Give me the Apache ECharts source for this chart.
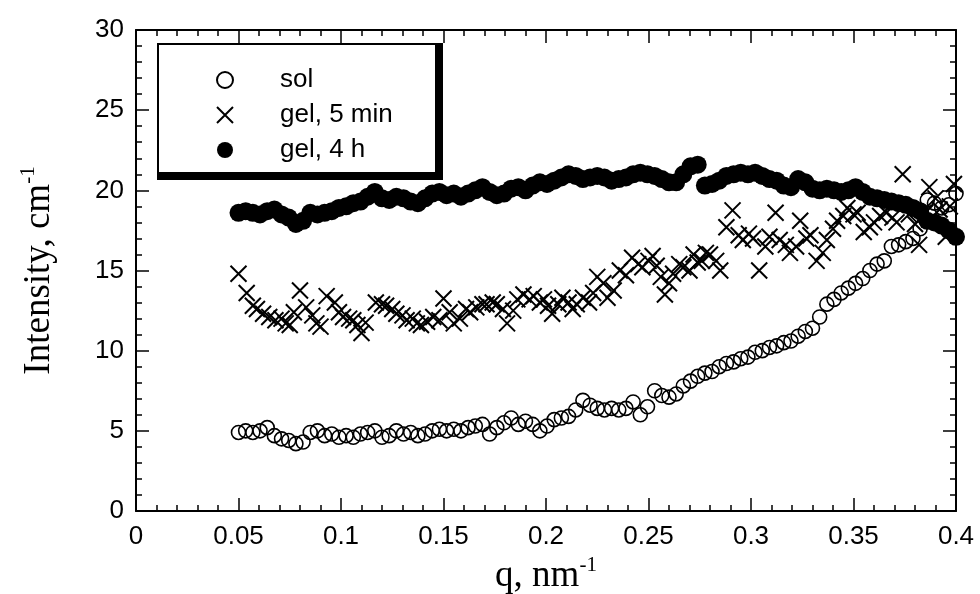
<!DOCTYPE html>
<html>
<head>
<meta charset="utf-8">
<script src="https://cdn.jsdelivr.net/npm/echarts@6/dist/echarts.min.js"></script>
<style>
    html, body { margin: 0; padding: 0; background: #fff; }
    #chart { width: 980px; height: 594px; }
</style>
</head>
<body>
<div id="chart"></div>
<script>
    // q grid shared by "sol" and "gel, 4 h"
    var qGrid = [
        0.0500, 0.0535, 0.0570, 0.0605, 0.0640, 0.0675, 0.0710, 0.0745, 0.0780, 0.0815,
        0.0850, 0.0885, 0.0920, 0.0955, 0.0990, 0.1025, 0.1060, 0.1095, 0.1130, 0.1165,
        0.1200, 0.1235, 0.1270, 0.1305, 0.1340, 0.1375, 0.1410, 0.1445, 0.1480, 0.1515,
        0.1550, 0.1585, 0.1620, 0.1655, 0.1690, 0.1725, 0.1760, 0.1795, 0.1830, 0.1865,
        0.1900, 0.1935, 0.1970, 0.2005, 0.2040, 0.2075, 0.2110, 0.2145, 0.2180, 0.2215,
        0.2250, 0.2285, 0.2320, 0.2355, 0.2390, 0.2425, 0.2460, 0.2495, 0.2530, 0.2565,
        0.2600, 0.2635, 0.2670, 0.2705, 0.2740, 0.2775, 0.2810, 0.2845, 0.2880, 0.2915,
        0.2950, 0.2985, 0.3020, 0.3055, 0.3090, 0.3125, 0.3160, 0.3195, 0.3230, 0.3265,
        0.3300, 0.3335, 0.3370, 0.3405, 0.3440, 0.3475, 0.3510, 0.3545, 0.3580, 0.3615,
        0.3650, 0.3685, 0.3720, 0.3755, 0.3790, 0.3825, 0.3860, 0.3895, 0.3930, 0.3965,
        0.4000
    ];
    var sol = [
        4.9, 5.0, 4.9, 5.0, 5.2, 4.7, 4.5, 4.4, 4.2, 4.3,
        4.9, 5.0, 4.7, 4.8, 4.6, 4.7, 4.6, 4.8, 4.9, 5.0,
        4.6, 4.7, 5.0, 4.8, 4.9, 4.7, 4.8, 5.0, 5.1, 5.0,
        5.1, 5.0, 5.2, 5.3, 5.4, 4.8, 5.2, 5.5, 5.8, 5.4,
        5.6, 5.4, 5.0, 5.3, 5.7, 5.8, 5.9, 6.3, 6.9, 6.6,
        6.4, 6.3, 6.4, 6.3, 6.4, 6.8, 6.0, 6.5, 7.5, 7.2,
        7.1, 7.3, 7.8, 8.1, 8.4, 8.6, 8.7, 9.0, 9.2, 9.3,
        9.5, 9.6, 9.9, 10.0, 10.2, 10.3, 10.5, 10.6, 10.9, 11.2,
        11.4, 12.1, 12.9, 13.2, 13.6, 13.9, 14.2, 14.5, 15.0, 15.4,
        15.6, 16.5, 16.6, 16.8, 17.0, 17.6, 19.4, 19.2, 18.9, 19.1,
        19.8
    ];
    var gel4h = [
        18.6, 18.7, 18.6, 18.5, 18.7, 18.8, 18.5, 18.3, 17.9, 18.1,
        18.6, 18.5, 18.6, 18.7, 18.9, 19.0, 19.2, 19.3, 19.6, 19.9,
        19.5, 19.4, 19.6, 19.5, 19.3, 19.2, 19.5, 19.8, 19.9, 19.7,
        19.8, 19.6, 19.8, 20.0, 20.2, 19.9, 19.7, 19.8, 20.1, 20.2,
        20.0, 20.3, 20.5, 20.4, 20.6, 20.8, 21.0, 20.9, 20.7, 20.8,
        20.9, 20.8, 20.6, 20.7, 20.8, 21.0, 21.1, 21.0, 20.9, 20.7,
        20.5, 20.5, 21.0, 21.5, 21.6, 20.3, 20.4, 20.6, 20.9, 21.0,
        21.1, 21.0, 21.1, 20.9, 20.7, 20.6, 20.3, 20.2, 20.7, 20.5,
        20.1, 20.0, 20.1, 20.0, 19.9, 20.0, 20.2, 19.9, 19.6, 19.5,
        19.4, 19.3, 19.2, 19.1, 18.9, 18.7, 18.1, 18.0, 17.8, 17.5,
        17.1
    ];
    // "gel, 5 min" has its own q values
    var q5min = [
        0.050, 0.054, 0.057, 0.059, 0.062, 0.065, 0.068, 0.071, 0.073, 0.075,
        0.077, 0.080, 0.083, 0.086, 0.088, 0.090, 0.093, 0.097, 0.099, 0.101,
        0.104, 0.106, 0.108, 0.110, 0.112, 0.117, 0.120, 0.122, 0.125, 0.127,
        0.130, 0.132, 0.135, 0.137, 0.139, 0.142, 0.145, 0.148, 0.150, 0.153,
        0.155, 0.158, 0.161, 0.163, 0.166, 0.169, 0.171, 0.174, 0.176, 0.179,
        0.181, 0.184, 0.186, 0.189, 0.192, 0.194, 0.197, 0.199, 0.201, 0.203,
        0.206, 0.208, 0.211, 0.213, 0.215, 0.218, 0.221, 0.223, 0.225, 0.228,
        0.230, 0.233, 0.236, 0.239, 0.242, 0.245, 0.247, 0.250, 0.252, 0.254,
        0.256, 0.258, 0.260, 0.262, 0.265, 0.267, 0.270, 0.272, 0.274, 0.276,
        0.278, 0.280, 0.283, 0.285, 0.288, 0.291, 0.294, 0.296, 0.299, 0.301,
        0.304, 0.307, 0.309, 0.312, 0.314, 0.317, 0.319, 0.322, 0.324, 0.327,
        0.329, 0.332, 0.335, 0.337, 0.340, 0.342, 0.345, 0.347, 0.350, 0.352,
        0.355, 0.358, 0.360, 0.363, 0.366, 0.369, 0.371, 0.374, 0.377, 0.380,
        0.382, 0.385, 0.387, 0.390, 0.392, 0.395, 0.397, 0.399
    ];
    var gel5min = [
        14.8, 13.6, 12.8, 12.6, 12.3, 12.1, 11.9, 12.0, 11.7, 11.6,
        12.4, 13.75, 12.7, 12.2, 11.7, 11.5, 13.4, 13.0, 12.4, 12.1,
        12.0, 11.9, 11.6, 11.1, 11.75, 13.0, 12.9, 12.8, 12.6, 12.3,
        12.2, 11.9, 12.0, 11.7, 11.6, 11.8, 12.1, 11.9, 13.25, 12.4,
        11.7, 12.0, 12.6, 12.4, 12.7, 12.9, 12.9, 13.0, 12.9, 12.6,
        11.7, 12.5, 13.2, 13.5, 13.2, 13.4, 13.0, 13.2, 12.8, 12.3,
        12.9, 13.3, 13.0, 12.6, 12.9, 13.3, 13.0, 13.6, 14.6, 14.2,
        13.3, 13.75, 15.0, 14.7, 15.8, 15.4, 15.2, 15.6, 15.9, 15.3,
        14.6, 13.5, 14.2, 14.8, 15.4, 15.2, 15.0, 16.0, 15.5, 15.6,
        16.1, 16.0, 15.6, 15.0, 17.7, 18.75, 17.2, 16.9, 17.3, 17.0,
        15.0, 16.5, 17.1, 18.6, 16.9, 16.6, 16.1, 16.5, 18.1, 17.0,
        17.2, 15.6, 16.1, 16.9, 17.6, 18.1, 18.4, 18.9, 18.5, 18.6,
        17.4, 17.7, 18.0, 18.4, 18.6, 18.3, 18.0, 21.0, 18.5, 17.9,
        16.6, 18.6, 20.2, 19.5, 18.8, 17.1, 19.0, 20.4
    ];

    function toPairs(xs, ys) {
        return xs.map(function (x, i) { return [x, ys[i]]; });
    }

    var tickFont = 'Liberation Sans, Arial, Helvetica, sans-serif';
    var titleFont = 'Liberation Serif, Times New Roman, serif';
    var titleRich = {
        a: { fontSize: 37, fontFamily: titleFont, color: '#000', lineHeight: 40, verticalAlign: 'bottom' },
        s: { fontSize: 21, fontFamily: titleFont, color: '#000', lineHeight: 40, verticalAlign: 'top' }
    };

    function mkX(pos, showLabel) {
        return {
            type: 'value', position: pos, min: 0, max: 0.4, interval: 0.05,
            axisLine: { show: true, onZero: false, lineStyle: { color: '#000', width: 2 } },
            axisTick: { show: true, inside: true, length: 13, lineStyle: { color: '#000', width: 1.5 } },
            minorTick: { show: true, splitNumber: 5, length: 6, lineStyle: { color: '#000', width: 1.5 } },
            splitLine: { show: false },
            axisLabel: { show: showLabel, margin: 13, color: '#000', fontSize: 26, fontFamily: tickFont },
            name: showLabel ? '{a|q, nm}{s|-1}' : '',
            nameLocation: 'middle', nameGap: 43,
            nameTextStyle: { rich: titleRich }
        };
    }
    function mkY(pos, showLabel) {
        return {
            type: 'value', position: pos, min: 0, max: 30, interval: 5,
            axisLine: { show: true, onZero: false, lineStyle: { color: '#000', width: 2 } },
            axisTick: { show: true, inside: true, length: 13, lineStyle: { color: '#000', width: 1.5 } },
            minorTick: { show: true, splitNumber: 5, length: 6, lineStyle: { color: '#000', width: 1.5 } },
            splitLine: { show: false },
            axisLabel: { show: showLabel, margin: 12, color: '#000', fontSize: 26, fontFamily: tickFont },
            name: showLabel ? '{a|Intensity, cm}{s|-1}' : '',
            nameLocation: 'middle', nameGap: 78, nameRotate: 90,
            nameTextStyle: { rich: titleRich }
        };
    }

    var chart = echarts.init(document.getElementById('chart'), null, { renderer: 'canvas' });
    var option = {
        animation: false,
        backgroundColor: '#fff',
        grid: { left: 136, right: 24, top: 30, bottom: 83, containLabel: false, outerBoundsMode: 'none' },
        xAxis: [mkX('bottom', true), mkX('top', false)],
        yAxis: [mkY('left', true), mkY('right', false)],
        legend: {
            orient: 'vertical', left: 211, top: 62, z: 10,
            itemWidth: 16, itemHeight: 16, itemGap: 9,
            textStyle: { fontSize: 26, fontFamily: tickFont, color: '#000', lineHeight: 24, padding: [0, 0, 0, 42] },
            data: ['sol', 'gel, 5 min', 'gel, 4 h'],
            selectedMode: false
        },
        graphic: [
            { type: 'rect', z: 5, shape: { x: 157, y: 43, width: 286, height: 137 }, style: { fill: '#000' } },
            { type: 'rect', z: 6, shape: { x: 159, y: 45, width: 276, height: 127 }, style: { fill: '#fff' } }
        ],
        series: [
            {
                name: 'gel, 4 h', type: 'scatter', z: 2,
                symbol: 'circle', symbolSize: 18,
                itemStyle: { color: '#000', opacity: 1 },
                data: toPairs(qGrid, gel4h)
            },
            {
                name: 'gel, 5 min', type: 'scatter', z: 3,
                symbol: 'path://M0,0L10,10M10,0L0,10', symbolSize: 16,
                itemStyle: { color: 'rgba(0,0,0,0)', borderColor: '#000', borderWidth: 2, opacity: 1 },
                data: toPairs(q5min, gel5min)
            },
            {
                name: 'sol', type: 'scatter', z: 4,
                symbol: 'circle', symbolSize: 14,
                itemStyle: { color: 'rgba(0,0,0,0)', borderColor: '#000', borderWidth: 1.6, opacity: 1 },
                data: toPairs(qGrid, sol)
            }
        ]
    };
    chart.setOption(option);
</script>
</body>
</html>
